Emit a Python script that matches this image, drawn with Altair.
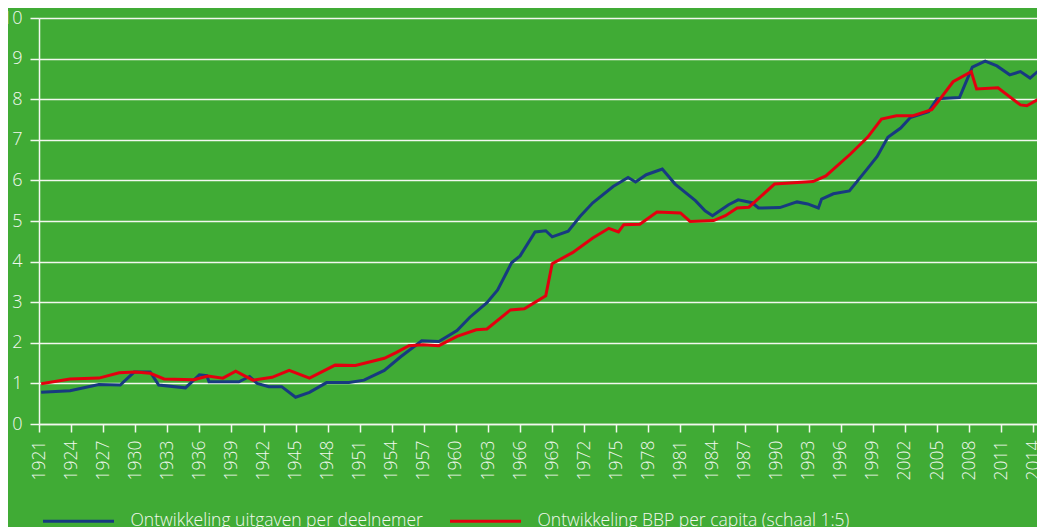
import altair as alt
import pandas as pd

SERIES_BLUE = "Ontwikkeling uitgaven per deelnemer"
SERIES_RED = "Ontwikkeling BBP per capita (schaal 1:5)"

blue_years = [1921.2, 1923.9, 1926.6, 1928.6, 1929.9, 1931.4, 1932.2, 1934.7, 1936.0, 1936.7,
              1936.9, 1939.7, 1940.7, 1941.4, 1942.5, 1943.7, 1945.0, 1946.3, 1947.9, 1950.0,
              1951.4, 1953.3, 1954.8, 1956.8, 1958.4, 1960.1, 1961.3, 1962.9, 1963.9, 1965.2,
              1966.0, 1967.4, 1968.4, 1969.0, 1970.5, 1971.6, 1972.8, 1974.7, 1976.1, 1976.8,
              1977.8, 1979.3, 1980.5, 1982.4, 1983.3, 1984.0, 1985.5, 1986.4, 1987.7, 1988.3,
              1990.3, 1991.9, 1992.9, 1993.9, 1994.2, 1995.3, 1996.8, 1998.4, 1999.4, 2000.4,
              2001.6, 2002.5, 2004.2, 2005.0, 2007.1, 2008.3, 2009.5, 2010.6, 2011.8, 2012.8,
              2013.7, 2014.5]
blue_values = [0.78, 0.82, 0.97, 0.96, 1.28, 1.28, 0.96, 0.89, 1.21, 1.19,
               1.04, 1.04, 1.17, 1.00, 0.92, 0.92, 0.66, 0.78, 1.02, 1.02,
               1.08, 1.32, 1.65, 2.05, 2.03, 2.30, 2.63, 2.99, 3.30, 3.97,
               4.14, 4.73, 4.76, 4.61, 4.75, 5.11, 5.45, 5.85, 6.07, 5.96,
               6.14, 6.28, 5.91, 5.50, 5.25, 5.13, 5.40, 5.52, 5.45, 5.32,
               5.33, 5.47, 5.42, 5.32, 5.54, 5.67, 5.74, 6.26, 6.59, 7.06,
               7.29, 7.55, 7.69, 8.01, 8.04, 8.79, 8.94, 8.82, 8.60, 8.68,
               8.52, 8.70]

red_years = [1921.2, 1923.9, 1926.6, 1928.5, 1930.0, 1931.4, 1932.7, 1935.5, 1936.8, 1938.2,
             1939.4, 1941.0, 1942.8, 1944.4, 1946.3, 1948.7, 1950.6, 1953.3, 1954.4, 1955.6,
             1956.9, 1958.4, 1960.1, 1961.9, 1962.9, 1965.1, 1966.4, 1968.4, 1969.0, 1970.9,
             1972.8, 1974.3, 1975.2, 1975.7, 1977.2, 1978.8, 1981.0, 1981.9, 1984.1, 1985.2,
             1986.3, 1987.4, 1989.8, 1993.4, 1994.6, 1996.9, 1998.5, 1999.8, 2001.2, 2002.7,
             2004.5, 2005.1, 2006.5, 2008.2, 2008.7, 2010.7, 2012.8, 2013.4, 2014.5]
red_values = [0.99, 1.11, 1.13, 1.26, 1.28, 1.25, 1.11, 1.09, 1.18, 1.13,
              1.30, 1.08, 1.15, 1.32, 1.13, 1.45, 1.44, 1.62, 1.76, 1.93,
              1.95, 1.93, 2.16, 2.32, 2.34, 2.81, 2.84, 3.16, 3.95, 4.22,
              4.58, 4.82, 4.73, 4.91, 4.92, 5.22, 5.20, 4.99, 5.01, 5.13,
              5.32, 5.34, 5.91, 5.97, 6.11, 6.65, 7.06, 7.51, 7.59, 7.59,
              7.74, 7.94, 8.43, 8.68, 8.25, 8.28, 7.86, 7.84, 8.00]

x_ticks = list(range(1921, 2015, 3))
y_ticks = list(range(0, 11))

df = pd.concat([
    pd.DataFrame({"jaar": blue_years, "waarde": blue_values, "reeks": SERIES_BLUE, "ord": range(len(blue_years))}),
    pd.DataFrame({"jaar": red_years, "waarde": red_values, "reeks": SERIES_RED, "ord": range(len(red_years))}),
])

GREEN = "#40ab35"
BLUE = "#173a80"
RED = "#e3000f"
TEXT = "#f2f8ef"
FONT = "Open Sans"

chart = alt.Chart(df).mark_line(strokeWidth=3, clip=True, strokeJoin="miter").encode(
    x=alt.X("jaar:Q",
            scale=alt.Scale(domain=[1921, 2014.35], nice=False, zero=False),
            axis=alt.Axis(values=x_ticks, format="d", labelAngle=270, title=None, grid=False,
                          labelFontSize=17.5, labelColor=TEXT, labelFont=FONT, labelFontWeight=300,
                          labelPadding=8, tickSize=8, tickColor=TEXT, tickWidth=1.5,
                          domainColor=TEXT, domainWidth=1.5, labelOverlap=False,
                          labelBound=False, labelFlush=False)),
    y=alt.Y("waarde:Q",
            scale=alt.Scale(domain=[0, 10], nice=False),
            axis=alt.Axis(values=y_ticks, title=None, grid=True, gridColor=TEXT, gridWidth=1.4,
                          labelFontSize=18, labelColor=TEXT, labelFont=FONT, labelFontWeight=300,
                          labelPadding=8, tickSize=9, tickColor=TEXT, tickWidth=1.5,
                          domainColor=TEXT, domainWidth=1.5, labelOverlap=False,
                          labelBound=False, labelFlush=False)),
    color=alt.Color("reeks:N",
                    scale=alt.Scale(domain=[SERIES_BLUE, SERIES_RED], range=[BLUE, RED]),
                    legend=alt.Legend(orient="none", legendX=2.5, legendY=466, direction="horizontal",
                                      title=None, symbolType="stroke", symbolSize=5041,
                                      symbolStrokeWidth=3, labelFontSize=17.5, labelColor=TEXT,
                                      labelFont=FONT, labelFontWeight=300, labelOffset=15,
                                      columnPadding=20, padding=0, labelLimit=500)),
    order="ord:Q",
).properties(
    width=998,
    height=406,
    autosize=alt.AutoSizeParams(type="none"),
    padding={"left": 31, "top": 10, "right": 0, "bottom": 103},
    background=GREEN,
).configure_view(strokeWidth=0)

chart.save("out.html", embed_options={"renderer": "svg", "actions": False})
